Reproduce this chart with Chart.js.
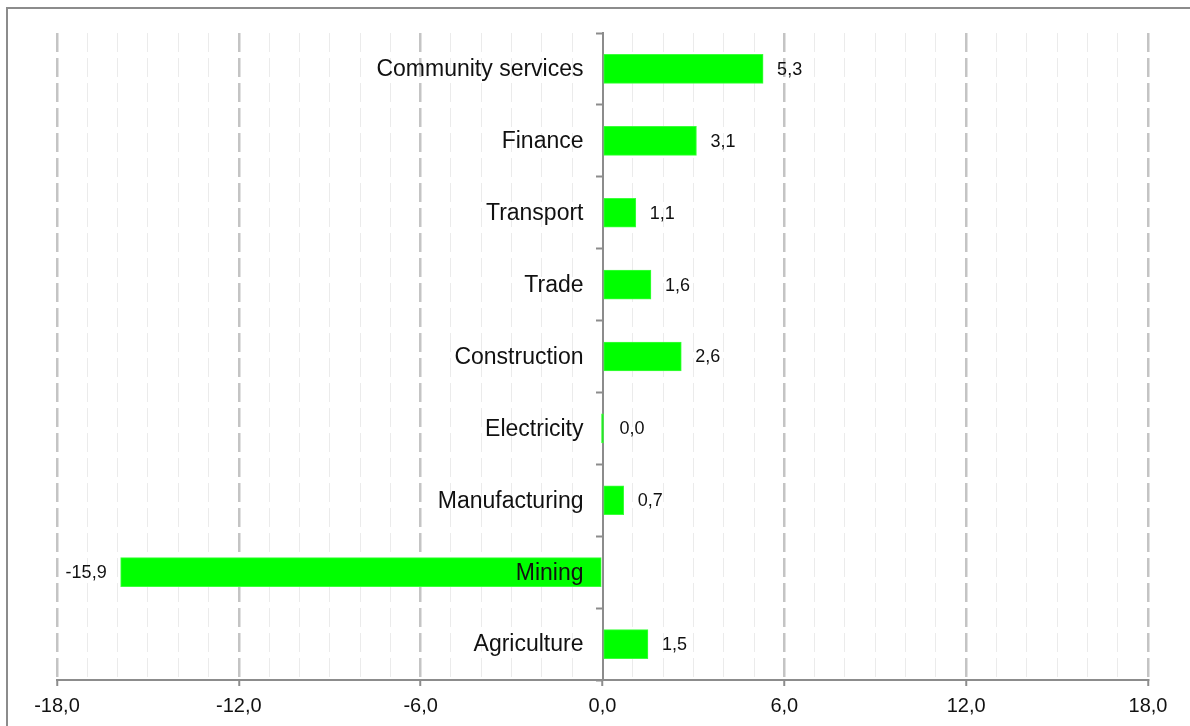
<!DOCTYPE html>
<html lang="en">
<head>
  <meta charset="UTF-8">
  <title>Growth by sector</title>
  <style>
    * {
      margin: 0;
      padding: 0;
      box-sizing: border-box;
    }

    body {
      width: 1190px;
      height: 726px;
      overflow: hidden;
      background: #fff;
      position: relative;
      font-family: "Liberation Sans", Arial, sans-serif;
    }

    .frame {
      position: absolute;
      left: 6px;
      top: 7px;
      width: 1300px;
      height: 800px;
      border: 2px solid #8c8c8c;
    }

    #chart-wrap {
      position: absolute;
      left: 0;
      top: 0;
      width: 1190px;
      height: 726px;
    }
  </style>
</head>
<body>
  <div class="frame"></div>
  <div id="chart-wrap">
    <canvas id="chart"></canvas>
  </div>

  <script src="https://cdn.jsdelivr.net/npm/chart.js"></script>
  <script>
    // sectors, top to bottom
    const sectors = ['Community services', 'Finance', 'Transport', 'Trade', 'Construction',
      'Electricity', 'Manufacturing', 'Mining', 'Agriculture'];
    const growth = [5.3, 3.1, 1.1, 1.6, 2.6, 0.0, 0.7, -15.9, 1.5];
    const axisMin = -18;
    const axisMax = 18;
    const majorStep = 6;

    const FONT = '"Liberation Sans", Arial, sans-serif';
    const fmt = (v) => v.toFixed(1).replace('.', ',');
    const isMajor = (c) => c.tick && Math.abs(c.tick.value % majorStep) < 1e-9;

    // sector names sit left of the zero line, on top of the bars
    const sectorLabels = {
      id: 'sectorLabels',
      afterDraw(chart) {
        const { ctx, scales } = chart;
        const x0 = scales.x.getPixelForValue(0);
        ctx.save();
        ctx.font = '23px ' + FONT;
        ctx.fillStyle = '#111';
        ctx.textAlign = 'right';
        ctx.textBaseline = 'middle';
        sectors.forEach((name, i) => {
          ctx.fillText(name, x0 - 19, scales.y.getPixelForValue(i) + 1);
        });
        ctx.restore();
      }
    };

    // value text beside each bar end
    const valueLabels = {
      id: 'valueLabels',
      afterDatasetsDraw(chart) {
        const { ctx } = chart;
        const meta = chart.getDatasetMeta(0);
        ctx.save();
        ctx.font = '18px ' + FONT;
        ctx.fillStyle = '#111';
        ctx.textBaseline = 'middle';
        meta.data.forEach((bar, i) => {
          const v = growth[i];
          if (v < 0) {
            ctx.textAlign = 'right';
            ctx.fillText(fmt(v), bar.x - 14, bar.y + 1);
          } else {
            ctx.textAlign = 'left';
            ctx.fillText(fmt(v), Math.max(bar.x, bar.base + 2) + 14, bar.y + 1);
          }
        });
        ctx.restore();
      }
    };

    new Chart(document.getElementById('chart'), {
      type: 'bar',
      data: {
        labels: sectors,
        datasets: [{
          data: growth,
          backgroundColor: '#00ff00',
          borderColor: '#3cff3c',
          borderWidth: 1,
          borderSkipped: false,
          barThickness: 29,
          minBarLength: 2
        }]
      },
      options: {
        indexAxis: 'y',
        responsive: true,
        maintainAspectRatio: false,
        animation: false,
        layout: {
          padding: { left: 57, right: 42, top: 33, bottom: 0 }
        },
        plugins: {
          legend: { display: false },
          tooltip: { enabled: false }
        },
        scales: {
          x: {
            type: 'linear',
            min: axisMin,
            max: axisMax,
            ticks: {
              stepSize: 1,
              autoSkip: false,
              maxRotation: 0,
              padding: 8,
              color: '#111',
              font: { size: 20, family: FONT },
              callback: (v) => (v % majorStep === 0 ? fmt(v) : '')
            },
            grid: {
              color: (c) => {
                if (c.tick && c.tick.value === 0) return 'rgba(0,0,0,0)';
                return isMajor(c) ? '#c4c4c4' : '#ebebeb';
              },
              lineWidth: (c) => (isMajor(c) ? 2.5 : 1),
              tickColor: (c) => (isMajor(c) ? '#8c8c8c' : 'rgba(0,0,0,0)'),
              tickWidth: 2,
              tickLength: 6
            },
            border: {
              color: '#8c8c8c',
              width: 2,
              dash: [19, 6]
            }
          },
          y: {
            type: 'category',
            position: { x: 0 },
            ticks: {
              callback: () => ''
            },
            grid: {
              drawOnChartArea: false,
              drawTicks: true,
              tickLength: 6,
              tickColor: '#8c8c8c',
              tickWidth: 2,
              offset: true
            },
            border: {
              color: '#8c8c8c',
              width: 2
            }
          }
        }
      },
      plugins: [valueLabels, sectorLabels]
    });
  </script>
</body>
</html>
